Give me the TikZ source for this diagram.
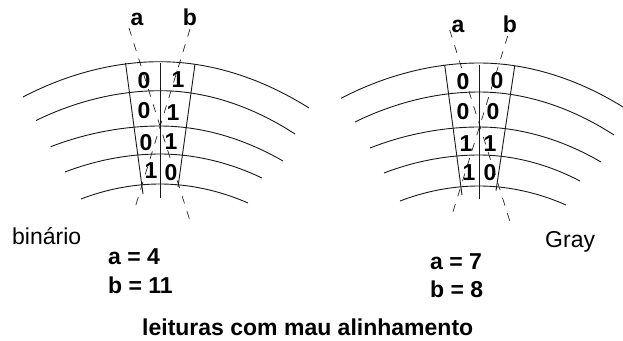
\documentclass[tikz,border=0pt]{standalone}
\usepackage{fontspec}
\setmainfont{Liberation Sans}
\tikzset{
  x=1pt,y=-1pt,
  track/.style={line width=0.9pt,black!90},
  wall/.style={line width=0.9pt,black!90},
  readline/.style={line width=0.7pt,black!85,dash pattern=on 8pt off 8pt},
  bit/.style={font=\fontsize{23}{24}\selectfont\bfseries,inner sep=0pt},
  head/.style={font=\fontsize{23}{24}\selectfont\bfseries,inner sep=0pt,anchor=base},
  plain/.style={font=\fontsize{23}{24}\selectfont,inner sep=0pt,anchor=base west},
  value/.style={font=\fontsize{23}{24}\selectfont\bfseries,inner sep=0pt,anchor=base west},
}
\begin{document}
\begin{tikzpicture}
\useasboundingbox (0,0) rectangle (623,340);
% left
\foreach \ax/\ay/\py/\bx/\by in {23/97/61.7/309/108,36/120.5/90.7/295/134,50.7/146.7/126/283/161,65/172/154/262/178,81/199/184/248/203}
  \draw[track] (\ax,\ay) parabola bend (160,\py) (\bx,\by);
\coordinate (la1) at (129,28); \coordinate (la2) at (191,224);
\coordinate (lb1) at (190,29); \coordinate (lb2) at (134,211);
\draw[readline] (la1) -- (la2);
\draw[readline] (lb1) -- (lb2);
\draw[wall] (125.5,63) -- (143,194);
\draw[wall] (195,64) -- (178,187);
\draw[wall] (160.5,63) -- (160.5,198);
\node[bit] (l1) at (144,81) {0}; \node[bit] (l2) at (178,80) {1};
\node[bit] (l3) at (144,110.5) {0}; \node[bit] (l4) at (173,113) {1};
\node[bit] (l5) at (146,143) {0}; \node[bit] (l6) at (171,142) {1};
\node[bit] (l7) at (151,171) {1}; \node[bit] (l8) at (171,173) {0};
\node[head] (la) at (137,25) {a};
\node[head] (lb) at (190,25) {b};
% right
\foreach \ax/\ay/\py/\bx/\by in {341/98.3/63/623/107,355/122/92/614/135,370/148/127/601/162,384/173/155/580/181,400/201/186/566/205}
  \draw[track] (\ax,\ay) parabola bend (479,\py) (\bx,\by);
\coordinate (ra1) at (449.7,30); \coordinate (ra2) at (512,228);
\coordinate (rb1) at (507.7,36); \coordinate (rb2) at (450.7,219);
\draw[readline] (ra1) -- (ra2);
\draw[readline] (rb1) -- (rb2);
\draw[wall] (444.7,65) -- (462,195);
\draw[wall] (514.7,66) -- (496,190.7);
\draw[wall] (479,65) -- (479,199);
\node[bit] (r1) at (463,81.7) {0}; \node[bit] (r2) at (497,81) {0};
\node[bit] (r3) at (463,111.7) {0}; \node[bit] (r4) at (493,111.7) {0};
\node[bit] (r5) at (466,144) {1}; \node[bit] (r6) at (490,144) {1};
\node[bit] (r7) at (469,172.7) {1}; \node[bit] (r8) at (490,173) {0};
\node[head] (ra) at (458,32) {a};
\node[head] (rb) at (510,32) {b};
% texts
\node[plain] (tb) at (12,244) {binário};
\node[plain] (tg) at (545,247) {Gray};
\node[value] (v1) at (108,264) {a = 4};
\node[value] (v2) at (108,293) {b = 11};
\node[value] (v3) at (430,269) {a = 7};
\node[value] (v4) at (430,297) {b = 8};
\node[value] (cap) at (142,335) {leituras com mau alinhamento};
\end{tikzpicture}
\end{document}
